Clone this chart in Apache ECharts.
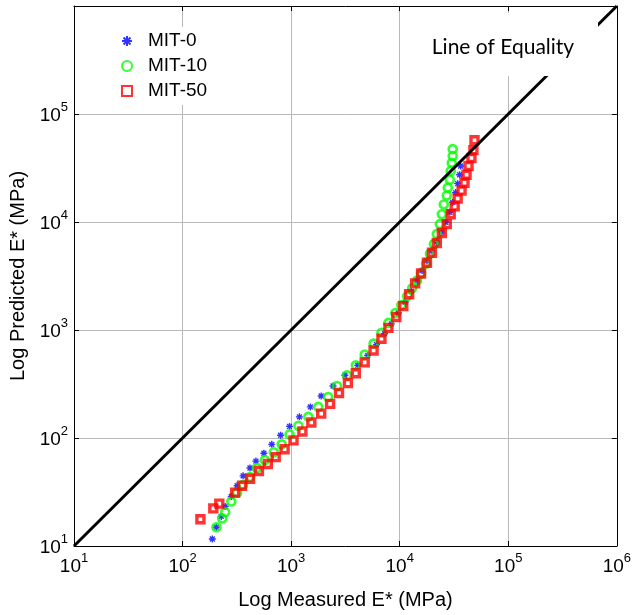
<!DOCTYPE html>
<html>
<head>
<meta charset="utf-8">
<script src="https://cdn.jsdelivr.net/npm/echarts@6/dist/echarts.min.js"></script>
<style>
  html, body { margin: 0; padding: 0; background: #fff; }
  #chart { width: 634px; height: 615px; }
</style>
</head>
<body>
<div id="chart"></div>
<script>
// Measured vs predicted dynamic modulus |E*| (MPa), three mixes
const mit0Measured = [188, 205, 227, 247, 281, 318, 361, 418, 474, 561, 663, 800, 967, 1193, 1503, 1892, 2433, 3128, 4113, 5070, 6124, 7244, 8375, 9705, 11250, 12760, 14460, 16070, 17830, 19820, 21990, 24430, 26550, 28930, 30780, 32740, 34200, 35650, 36420];
const mit0Predicted = [11.6, 14.9, 18.8, 23.2, 28.7, 36.1, 44.6, 52.7, 61.1, 72.3, 87.3, 106, 128, 157, 194, 245, 303, 381, 471, 581, 733, 923, 1140, 1436, 1811, 2281, 2877, 3551, 4385, 5410, 6535, 8070, 9960, 12300, 15180, 18720, 22640, 27350, 33040];

const mit10Measured = [205, 232, 247, 281, 318, 361, 418, 484, 573, 692, 818, 967, 1168, 1440, 1778, 2193, 2649, 3266, 3943, 4762, 5750, 6793, 7870, 9120, 10350, 11730, 13030, 14460, 15740, 17470, 19000, 20660, 21990, 23430, 24430, 25480, 27150, 27740, 28930, 29510, 30150, 30780, 30780];
const mit10Predicted = [14.9, 18.0, 20.5, 25.8, 31.2, 36.9, 43.6, 52.7, 62.4, 73.8, 87.3, 108, 130, 157, 194, 240, 303, 381, 471, 593, 748, 942, 1163, 1436, 1700, 2054, 2431, 2877, 3334, 4115, 5077, 6266, 7733, 9550, 11780, 14540, 17590, 20810, 24620, 29720, 35240, 40830, 47330];

const mit50Measured = [146, 192, 218, 305, 353, 418, 505, 610, 721, 871, 1052, 1270, 1535, 1892, 2285, 2760, 3334, 3943, 4762, 5750, 6793, 7870, 9311, 10790, 12220, 13870, 15740, 17830, 19820, 21990, 24430, 27150, 29510, 32100, 34200, 37150, 39550, 41300, 43050, 45810, 47760, 48860];
const mit50Predicted = [17.7, 22.3, 24.7, 31.2, 36.1, 41.9, 49.5, 57.4, 66.5, 78.7, 95.1, 115, 139, 168, 207, 261, 322, 398, 501, 645, 831, 1047, 1321, 1663, 2143, 2700, 3334, 4200, 5190, 6400, 7900, 9550, 11780, 13940, 16510, 19540, 23120, 27350, 33040, 39090, 46250, 57150];

// Line of equality end points and axis decades
const equalityLine = [[10, 10], [1e6, 1e6]];
const axisMin = 10;
const axisMax = 1e6;
const seriesNames = ['MIT-0', 'MIT-10', 'MIT-50'];
const equalityLabel = 'Line of Equality';

const pair = (xs, ys) => xs.map((x, i) => [x, ys[i]]);

// eight-armed asterisk marker
const asterisk = 'path://M0 4L10 4L10 6L0 6Z M4 0L6 0L6 10L4 10Z M0.8 2.2L2.2 0.8L9.2 7.8L7.8 9.2Z M7.8 0.8L9.2 2.2L2.2 9.2L0.8 7.8Z';

const labelFont = "'Liberation Sans', Arial, sans-serif";
const powerLabel = v => '{b|10}{s|' + Math.round(Math.log10(v)) + '}';
const richPow = {
  b: { fontSize: 19, fontFamily: labelFont, color: '#000', verticalAlign: 'bottom', lineHeight: 22 },
  s: { fontSize: 13, fontFamily: labelFont, color: '#000', verticalAlign: 'bottom', lineHeight: 22, padding: [0, 0, 11, 0] }
};

const gridColor = '#b9b9b9';
const baseAxis = {
  type: 'log', logBase: 10, min: axisMin, max: axisMax,
  axisLine: { show: true, lineStyle: { color: '#000', width: 1 } },
  axisTick: { show: true, inside: true, length: 5, lineStyle: { color: '#000' } },
  minorTick: { show: false },
  splitLine: { show: false }
};

const chart = echarts.init(document.getElementById('chart'), null, { renderer: 'canvas' });

chart.setOption({
  backgroundColor: '#fff',
  animation: false,
  grid: { left: 70, right: 16, top: 6, bottom: 62, containLabel: false },
  xAxis: [
    Object.assign({}, baseAxis, {
      position: 'bottom',
      splitLine: { show: true, lineStyle: { color: gridColor, width: 1 } },
      axisLabel: { formatter: powerLabel, rich: richPow, margin: 8 },
      name: 'Log Measured E* (MPa)', nameLocation: 'middle', nameGap: 44,
      nameTextStyle: { fontSize: 20, fontFamily: labelFont, color: '#000' }
    }),
    Object.assign({}, baseAxis, { position: 'top', axisLabel: { show: false } })
  ],
  yAxis: [
    Object.assign({}, baseAxis, {
      position: 'left',
      splitLine: { show: true, lineStyle: { color: gridColor, width: 1 } },
      axisLabel: { formatter: powerLabel, rich: richPow, margin: 6, showMaxLabel: false },
      name: 'Log Predicted E* (MPa)', nameLocation: 'middle', nameGap: 46, nameRotate: 90,
      nameTextStyle: { fontSize: 20, fontFamily: labelFont, color: '#000' }
    }),
    Object.assign({}, baseAxis, { position: 'right', axisLabel: { show: false } })
  ],
  legend: {
    orient: 'vertical',
    left: 113, top: 27,
    padding: [4, 14, 4, 8],
    backgroundColor: '#fff',
    itemWidth: 10, itemHeight: 10, itemGap: 5,
    textStyle: { fontSize: 19, fontFamily: labelFont, color: '#000', lineHeight: 20, padding: [0, 0, 0, 11] },
    data: seriesNames
  },
  series: [
    {
      name: seriesNames[0], type: 'scatter', xAxisIndex: 0, yAxisIndex: 0,
      symbol: asterisk, symbolSize: 7,
      itemStyle: { color: '#0000ff' },
      data: pair(mit0Measured, mit0Predicted), z: 2
    },
    {
      name: seriesNames[1], type: 'scatter', xAxisIndex: 0, yAxisIndex: 0,
      symbol: 'circle', symbolSize: 8,
      itemStyle: { color: 'rgba(0,0,0,0)', borderColor: '#00ff00', borderWidth: 2.6 },
      data: pair(mit10Measured, mit10Predicted), z: 3
    },
    {
      name: seriesNames[2], type: 'scatter', xAxisIndex: 0, yAxisIndex: 0,
      symbol: 'rect', symbolSize: 7,
      itemStyle: { color: 'rgba(0,0,0,0)', borderColor: '#ff0000', borderWidth: 3.4 },
      data: pair(mit50Measured, mit50Predicted), z: 4
    },
    {
      name: 'equality', type: 'line', xAxisIndex: 0, yAxisIndex: 0,
      data: equalityLine, showSymbol: false, symbol: 'none',
      lineStyle: { color: '#000', width: 3 }, z: 5, silent: true
    }
  ],
  graphic: [
    {
      type: 'rect', z: 100, zlevel: 0,
      shape: { x: 406, y: 13, width: 192, height: 63 },
      style: { fill: '#fff' }
    },
    {
      type: 'text', z: 101, zlevel: 0, x: 503, y: 47,
      style: { text: equalityLabel, fontSize: 21, fontFamily: "Lato, 'Open Sans', sans-serif", fill: '#000', align: 'center', verticalAlign: 'middle' }
    }
  ]
});
</script>
</body>
</html>
